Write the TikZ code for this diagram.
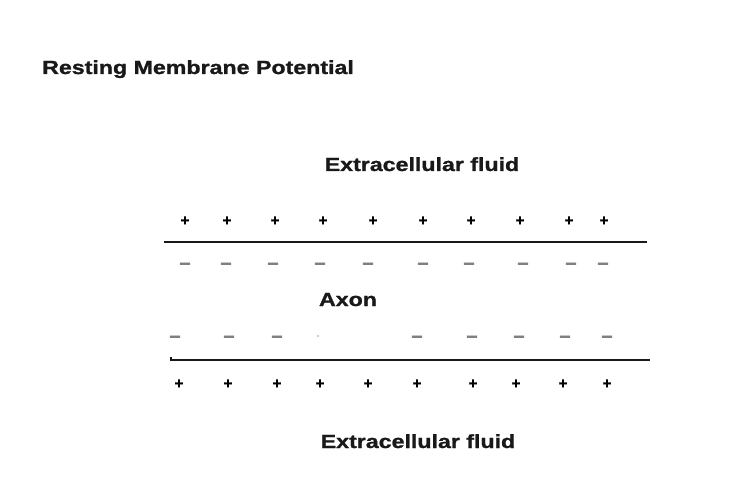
\documentclass[tikz,border=0pt]{standalone}
\usepackage{fontspec}
\usepackage{tikz}
\usetikzlibrary{positioning,calc}
\newfontfamily\lblfont[FakeStretch=1.22,FakeBold=1.2]{Liberation Sans}
\newfontfamily\chgfont[FakeBold=1.5]{Liberation Sans}

\begin{document}
\begin{tikzpicture}[x=1pt, y=-1pt, %
        lbl/.style={font=\lblfont\bfseries\fontsize{19}{19}\selectfont, text=black!90, inner sep=0pt, anchor=base},
        poschg/.style={font=\chgfont\bfseries\fontsize{15}{15}\selectfont, inner sep=0pt},
        negchg/.style={font=\chgfont\bfseries\fontsize{20}{20}\selectfont, text=black!50, inner sep=0pt},
        membrane/.style={line width=2.8pt, black!90}
        ]
        \useasboundingbox[fill=white] (0,0) rectangle (754,486);
        % title and labels
        \node[lbl, anchor=base west] (title) at (42,74) {Resting Membrane Potential};
        \node[lbl] (outTop) at (422,171) {Extracellular fluid};
        \node[lbl] (axon) at (348,306) {Axon};
        \node[lbl] (outBot) at (418,448) {Extracellular fluid};
        % upper membrane
        \coordinate (mTopL) at (164,242);
        \coordinate (mTopR) at (647,242);
        \draw[membrane] (mTopL) -- (mTopR);
        \foreach \x [count=\i] in {185,227,275,323,373,423,471,520,569,604}
          \node[poschg] (pT\i) at (\x,221) {+};
        \foreach \x [count=\i] in {185,226,273,320,368,423,469,523,571,603}
          \node[negchg] (nT\i) at (\x,266) {\textendash};
        % lower membrane
        \coordinate (mBotL) at (171,360);
        \coordinate (mBotR) at (650,360);
        \draw[membrane] ($(mBotL)+(0,-3)$) |- (mBotR);
        \foreach \x [count=\i] in {175,229,277,417,472,519,565,607}
          \node[negchg] (nB\i) at (\x,339) {\textendash};
        \fill[black!25] (318,336) circle (1.2pt);
        \foreach \x [count=\i] in {179,228,277,320,368,417,473,516,563,607}
          \node[poschg] (pB\i) at (\x,384) {+};
      \end{tikzpicture}
\end{document}
